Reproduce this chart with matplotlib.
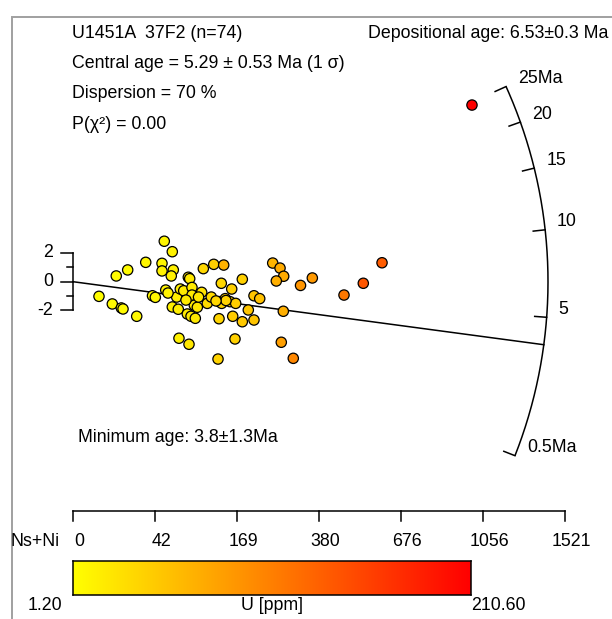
import numpy as np
import matplotlib
matplotlib.use("Agg")
import matplotlib.pyplot as plt
from matplotlib.colors import LinearSegmentedColormap, Normalize
from matplotlib.patches import Rectangle

plt.rcParams['font.family'] = ['Liberation Sans', 'DejaVu Sans']

# ---------------- data ----------------
# radial-plot coordinates: x = precision (2*sqrt(Ns+Ni)), y = standardised estimate
x_prec = [14.47, 15.74, 11.53, 14.11, 14.11, 15.90, 15.58, 8.67, 6.86, 4.12,
          6.23, 7.66, 7.93, 10.10, 12.60, 13.05, 14.70, 15.74, 16.69, 16.44,
          17.01, 17.55, 18.28, 18.50, 18.86, 18.86, 19.23, 19.71, 18.12, 18.71,
          19.39, 20.40, 20.66, 22.31, 23.89, 23.51, 21.29, 21.92, 23.19, 23.57,
          23.15, 24.14, 24.89, 25.16, 25.79, 25.32, 26.84, 26.84, 27.79, 28.69,
          29.60, 28.69, 25.68, 16.80, 18.39, 22.99, 31.66, 32.82, 33.40, 32.23,
          33.34, 33.02, 34.92, 36.07, 37.94, 42.96, 46.02, 48.99, 63.25, 19.90,
          24.25, 22.67, 15.06, 17.91]
y_std = [2.82, 2.09, 1.35, 1.28, 0.75, 0.82, 0.40, 0.82, 0.40, -1.02,
         -1.55, -1.83, -1.90, -2.41, -0.98, -1.09, -0.58, -1.76, -1.92, -1.07,
         -0.51, -0.63, 0.31, 0.21, -0.40, -0.93, -1.64, -1.78, -2.25, -2.41,
         -2.55, -0.74, 0.91, 1.21, 1.16, -0.11, -1.51, -1.07, -1.39, -1.51,
         -2.58, -1.18, -1.39, -0.51, -1.51, -2.41, 0.17, -2.79, -1.97, -0.98,
         -1.18, -2.67, -3.99, -3.94, -4.36, -5.39, 1.30, 0.95, 0.38, 0.05,
         -2.06, -4.22, -5.34, -0.26, 0.26, -0.93, -0.11, 1.32, 12.31, -1.07,
         -1.31, -1.34, -0.79, -1.28]
U_ppm = [10, 12, 8, 10, 12, 14, 14, 5, 5, 3,
         5, 6, 6, 7, 9, 10, 12, 14, 15, 15,
         16, 17, 18, 20, 19, 19, 20, 21, 18, 19,
         20, 25, 34, 42, 65, 34, 30, 32, 36, 36,
         36, 38, 40, 40, 42, 44, 40, 46, 48, 50,
         52, 50, 40, 13, 21, 38, 63, 70, 70, 67,
         67, 80, 100, 88, 85, 112, 140, 135, 210.6, 21,
         38, 34, 12, 18]
U_range = [1.20, 210.60]

arc_ages = [0.5, 5, 10, 15, 20, 25]          # Ma
arc_labels = ['0.5Ma', '5', '10', '15', '20', '25Ma']
ref_age = 6.8            # age at y = 0
min_age = 3.8            # minimum age line
K_scale = 114.5          # age scale of the arcsine transform

yticks = [-2, -1, 0, 1, 2]
ytick_labels = {-2: '-2', 0: '0', 2: '2'}
nsni_ticks = [0, 42, 169, 380, 676, 1056, 1521]

title_lines = ['U1451A  37F2 (n=74)',
               'Central age = 5.29 \u00b1 0.53 Ma (1 \u03c3)',
               'Dispersion = 70 %',
               'P(\u03c7\u00b2) = 0.00']
dep_text = 'Depositional age: 6.53\u00b10.3 Ma'
min_text = 'Minimum age: 3.8\u00b11.3Ma'

# ---------------- figure ----------------
W, H = 612, 619
fig = plt.figure(figsize=(W / 100, H / 100), dpi=100)
ax = fig.add_axes([0, 0, 1, 1])
ax.axis('off')
X0, PXX = 73.0, 6.308
Y0, PXY = 281.7, 14.35
ax.set_xlim(-X0 / PXX, (W - X0) / PXX)
ax.set_ylim((Y0 - H) / PXY, Y0 / PXY)

def fx(px):
    return px / W

def fy(py):
    return 1 - py / H

FS = 12.8

# border (right/bottom outside of the frame)
fig.patches.append(Rectangle((fx(11.5), fy(H + 20)), 1.2, fy(17) - fy(H + 20),
                             transform=fig.transFigure, fill=False,
                             edgecolor='#a0a0a0', linewidth=1.4))

# pixel scale of data units
p0 = ax.transData.transform((0, 0))
p1 = ax.transData.transform((1, 1))
sx, sy = p1[0] - p0[0], p1[1] - p0[1]
R = 475.0

def zt(t):
    return np.arctan(np.sqrt(np.asarray(t) / K_scale))

z0 = zt(ref_age)

def arc_point(t, r=R):
    s = zt(t) - z0
    phi = np.arctan2(sy * s, sx)
    return r * np.cos(phi) / sx, r * np.sin(phi) / sy, phi

# arc
tt = np.linspace(min(arc_ages), max(arc_ages), 400)
ax_, ay_, _ = arc_point(tt)
ax.plot(ax_, ay_, color='black', lw=1.1, solid_capstyle='butt')
for t, lab in zip(arc_ages, arc_labels):
    x1, y1, phi = arc_point(t)
    x2, y2, _ = arc_point(t, R - 12)
    ax.plot([x1, x2], [y1, y2], color='black', lw=1.1)
    ax.annotate(lab, (x1, y1), xytext=(8.6, 5.8), textcoords='offset points',
                ha='left', va='center', fontsize=FS)

# minimum age line
xe, ye, _ = arc_point(min_age)
ax.plot([0, xe], [0, ye], color='black', lw=1.1)

# points
cmap = LinearSegmentedColormap.from_list('yr', ['#ffff00', '#ff0000'])
norm = Normalize(U_range[0], U_range[1])
ax.scatter(x_prec, y_std, c=U_ppm, cmap=cmap, norm=norm, s=55,
           edgecolors='black', linewidths=0.9, zorder=3)

# y axis
ax.plot([0, 0], [min(yticks), max(yticks)], color='black', lw=1.1)
for v in yticks:
    L = 12 if v in ytick_labels else 6
    ax.plot([-L / sx, 0], [v, v], color='black', lw=1.1)
    if v in ytick_labels:
        ax.annotate(ytick_labels[v], (-L / sx, v), xytext=(-5.5, 0),
                    textcoords='offset points', ha='right', va='center',
                    fontsize=FS)

# precision axis (Ns+Ni)
xt = [2 * np.sqrt(n) for n in nsni_ticks]
yb = (Y0 - 511) / PXY
ax.plot([xt[0], xt[-1]], [yb, yb], color='black', lw=1.1)
for v, n in zip(xt, nsni_ticks):
    ax.plot([v, v], [yb, yb - 10 / PXY], color='black', lw=1.1)
    ax.annotate(str(n), (v, yb), xytext=(4.5, -22), textcoords='offset points',
                ha='center', va='center', fontsize=FS)
fig.text(fx(10), fy(541), 'Ns+Ni', ha='left', va='center', fontsize=FS)

# colour bar
cax = fig.add_axes([fx(73), fy(595), (471 - 73) / W, 34 / H])
grad = np.linspace(U_range[0], U_range[1], 256).reshape(1, -1)
cax.imshow(grad, cmap=cmap, norm=norm, aspect='auto',
           extent=[U_range[0], U_range[1], 0, 1])
cax.set_xticks([])
cax.set_yticks([])
for sp in cax.spines.values():
    sp.set_linewidth(1.1)
fig.text(fx(45), fy(605), f'{U_range[0]:.2f}', ha='center', va='center', fontsize=FS)
fig.text(fx(272), fy(605), 'U [ppm]', ha='center', va='center', fontsize=FS)
fig.text(fx(498), fy(605), f'{U_range[1]:.2f}', ha='center', va='center', fontsize=FS)

# texts
for i, s in enumerate(title_lines):
    fig.text(fx(72), fy(33 + 30.5 * i), s, ha='left', va='center', fontsize=FS)
fig.text(fx(368), fy(33), dep_text, ha='left', va='center', fontsize=FS)
fig.text(fx(78), fy(437), min_text, ha='left', va='center', fontsize=FS)

fig.savefig('out.png', dpi=100)
